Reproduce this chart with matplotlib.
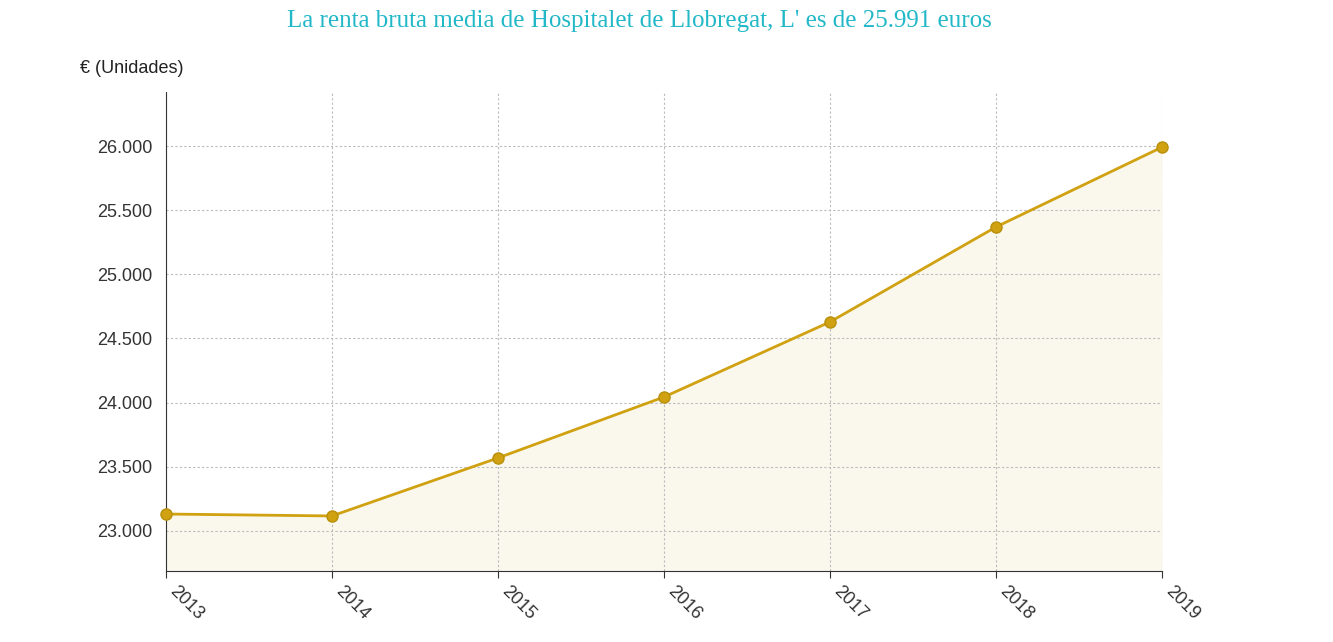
import matplotlib
matplotlib.use("Agg")
import matplotlib.pyplot as plt
from matplotlib.ticker import FuncFormatter

plt.rcParams["font.family"] = "Liberation Sans"

years = [2013, 2014, 2015, 2016, 2017, 2018, 2019]
renta = [23132, 23117, 23569, 24044, 24629, 25369, 25991]
yticks = [23000, 23500, 24000, 24500, 25000, 25500, 26000]

fig = plt.figure(figsize=(13.33, 6.42), dpi=100)
ax = fig.add_axes([0.1245, 0.1106, 0.7472, 0.7461])

line_color = "#d0a110"
ax.fill_between(years, renta, 22688, color="#f6efd8", alpha=0.45, lw=0)
ax.plot(years, renta, color=line_color, lw=2, marker="o", ms=8,
        markerfacecolor=line_color, markeredgecolor="#b8900c", markeredgewidth=1,
        clip_on=False, zorder=3)

ax.set_xlim(2013, 2019)
ax.set_ylim(22688, 26421)
ax.set_xticks(years)
ax.set_xticklabels([str(y) for y in years], rotation=-45, ha="left", va="top",
                   fontsize=13, color="#333333")
ax.set_yticks(yticks)
ax.yaxis.set_major_formatter(FuncFormatter(lambda v, p: f"{int(v):,}".replace(",", ".")))
ax.tick_params(axis="y", length=0, labelsize=13, labelcolor="#333333", pad=10)
ax.tick_params(axis="x", length=5, color="#333333")
ax.grid(True, color="#bbbbbb", linestyle=(0, (2, 2)), lw=0.8)
for s in ["top", "right"]:
    ax.spines[s].set_visible(False)
ax.spines["left"].set_linestyle((0, (2, 1)))
ax.spines["left"].set_color("#333333")
ax.spines["bottom"].set_color("#333333")

fig.text(0.06, 0.887, "€ (Unidades)", fontsize=13, color="#222222")
fig.text(0.48, 0.985, "La renta bruta media de Hospitalet de Llobregat, L' es de 25.991 euros",
         ha="center", va="top", fontsize=18, color="#22b8c8", family="Liberation Serif")

fig.savefig("out.png", dpi=100)
